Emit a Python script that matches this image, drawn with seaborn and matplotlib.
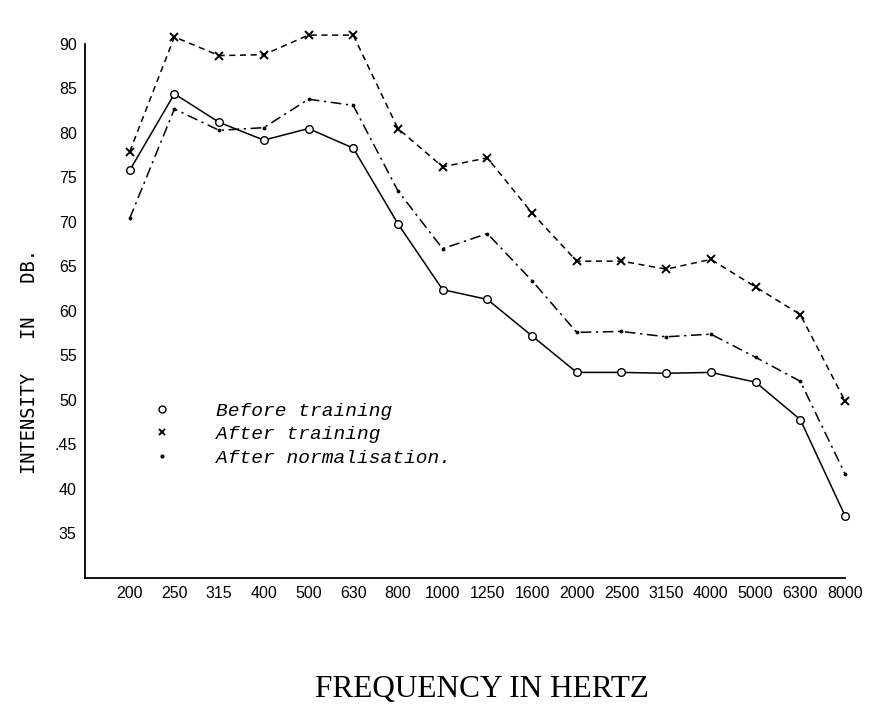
import matplotlib
matplotlib.use("Agg")
import matplotlib.pyplot as plt
from matplotlib.lines import Line2D
import seaborn as sns

# Frequencies (Hz) shown as evenly spaced categories
freqs = ["200", "250", "315", "400", "500", "630", "800", "1000", "1250",
         "1600", "2000", "2500", "3150", "4000", "5000", "6300", "8000"]

# Intensity in dB
before_training = [75.8, 84.4, 81.2, 79.2, 80.5, 78.3, 69.8, 62.4, 61.3,
                   57.2, 53.1, 53.1, 53.0, 53.1, 52.0, 47.8, 37.0]
after_training = [77.9, 90.8, 88.7, 88.8, 91.0, 91.0, 80.5, 76.2, 77.2,
                  71.0, 65.6, 65.6, 64.7, 65.8, 62.7, 59.6, 49.9]
after_normalisation = [70.4, 82.7, 80.3, 80.6, 83.8, 83.1, 73.5, 67.0, 68.7,
                       63.4, 57.6, 57.7, 57.1, 57.4, 54.8, 52.1, 41.7]

y_ticks = [35, 40, 45, 50, 55, 60, 65, 70, 75, 80, 85, 90]
y_tick_labels = ["35", "40", ".45", "50", "55", "60", "65", "70", "75", "80", "85", "90"]

sns.set_style("white")
plt.rcParams["font.family"] = ["Liberation Sans", "DejaVu Sans"]
plt.rcParams["text.color"] = "black"

fig = plt.figure(figsize=(8.78, 7.04), dpi=100)
ax = fig.add_axes([0.0968, 0.179, 0.8656, 0.7585])

# Before training: solid line, open circles
sns.lineplot(x=freqs, y=before_training, ax=ax, color="black", linewidth=1.1,
             linestyle="-", marker="o", markersize=5.5, markerfacecolor="white",
             markeredgecolor="black", markeredgewidth=1.0, sort=False,
             clip_on=False)
# After training: dashed line, crosses
sns.lineplot(x=freqs, y=after_training, ax=ax, color="black", linewidth=1.1,
             linestyle=(0, (4, 3)), marker="x", markersize=6,
             markeredgecolor="black", markeredgewidth=1.4, sort=False,
             clip_on=False)
# After normalisation: dash-dot line, dots
sns.lineplot(x=freqs, y=after_normalisation, ax=ax, color="black", linewidth=1.1,
             linestyle=(0, (7, 3, 1.5, 3)), marker=".", markersize=4,
             markeredgecolor="black", markerfacecolor="black", sort=False,
             clip_on=False)

ax.set_xlim(-1, 16)
ax.set_ylim(30, 90)
ax.set_yticks(y_ticks)
ax.set_yticklabels(y_tick_labels)
ax.set_xticks(range(len(freqs)))
ax.set_xticklabels(freqs)

for side in ["top", "right"]:
    ax.spines[side].set_visible(False)
for side in ["left", "bottom"]:
    ax.spines[side].set_color("black")
    ax.spines[side].set_linewidth(1.3)

ax.tick_params(axis="both", direction="in", length=3, width=1, colors="black",
               labelsize=11.5, pad=6)
ax.grid(False)

ax.set_xlabel("")
ax.set_ylabel("")
fig.text(0.034, 0.486, "INTENSITY   IN   DB.", family="DejaVu Sans Mono",
         fontsize=13.5, rotation=90, ha="center", va="center", color="black")

# Legend: markers with italic typewriter text
handles = [
    Line2D([], [], color="black", linestyle="none", marker="o", markersize=5,
           markerfacecolor="white", markeredgewidth=1.0),
    Line2D([], [], color="black", linestyle="none", marker="x", markersize=5,
           markeredgewidth=1.4),
    Line2D([], [], color="black", linestyle="none", marker=".", markersize=4),
]
labels = ["Before training", "After training", "After normalisation."]
leg = ax.legend(handles, labels, loc="upper left", bbox_to_anchor=(0.063, 0.362),
                frameon=False, handlelength=1.2, handletextpad=2.2,
                labelspacing=0.3,
                prop={"family": "Liberation Mono", "style": "italic", "size": 14})
for t in leg.get_texts():
    t.set_color("black")

fig.text(0.549, 0.01, "FREQUENCY IN HERTZ", family="Liberation Serif",
         fontsize=22.5, ha="center", va="baseline", color="black")

plt.savefig("out.png", dpi=100)
